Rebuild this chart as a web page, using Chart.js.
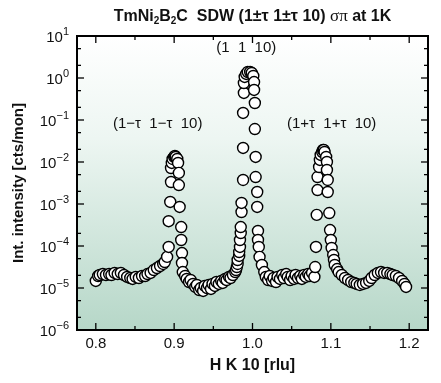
<!DOCTYPE html>
<html>
<head>
<meta charset="utf-8">
<script src="https://cdn.jsdelivr.net/npm/chart.js@4.4.0/dist/chart.umd.min.js"></script>
<style>
  html, body { margin: 0; padding: 0; background: #fff; }
</style>
</head>
<body>
<canvas id="myChart" width="441" height="383"></canvas>
<script>
// scan along (H H 10)
const hk = [
  0.800, 0.803, 0.805, 0.809, 0.813, 0.817, 0.820, 0.824, 0.828, 0.832,
  0.836, 0.840, 0.844, 0.847, 0.851, 0.855, 0.859, 0.863, 0.866, 0.870,
  0.874, 0.878, 0.882, 0.886, 0.888, 0.891, 0.893, 0.893, 0.895, 0.896,
  0.896, 0.897, 0.898, 0.900, 0.901, 0.902, 0.904, 0.905, 0.906, 0.906,
  0.907, 0.909, 0.909, 0.910, 0.910, 0.911,
  0.914, 0.916, 0.919, 0.921, 0.924, 0.927, 0.929, 0.932, 0.934, 0.937,
  0.939, 0.942, 0.944, 0.947, 0.949, 0.952, 0.954, 0.957, 0.960, 0.962,
  0.965, 0.967, 0.970, 0.972, 0.975,
  0.978, 0.979, 0.980, 0.981, 0.981, 0.983, 0.983, 0.984, 0.984, 0.985,
  0.985, 0.986, 0.986, 0.988, 0.988, 0.988, 0.989, 0.989, 0.990, 0.992,
  0.994, 0.997, 0.999, 1.001, 1.002, 1.002, 1.003, 1.003, 1.004, 1.004,
  1.006, 1.006, 1.007, 1.007, 1.008, 1.009, 1.012, 1.015,
  1.017, 1.020, 1.022, 1.025, 1.027, 1.030, 1.032, 1.035, 1.038, 1.040,
  1.043, 1.045, 1.048, 1.050, 1.053, 1.055, 1.058, 1.061, 1.063, 1.066,
  1.068, 1.071, 1.073, 1.076,
  1.079, 1.080, 1.081, 1.082, 1.083, 1.083, 1.085, 1.086, 1.087, 1.089,
  1.090, 1.091, 1.092, 1.094, 1.095, 1.095, 1.096, 1.096, 1.098, 1.099,
  1.100, 1.101, 1.103, 1.104, 1.105, 1.108, 1.110,
  1.114, 1.118, 1.122, 1.126, 1.130, 1.133, 1.137, 1.141, 1.145, 1.149,
  1.152, 1.156, 1.160, 1.164, 1.168, 1.172, 1.176, 1.179, 1.183, 1.187,
  1.191, 1.194, 1.196
];
const intensity = [
  1.47e-5, 1.93e-5, 2.04e-5, 2.15e-5, 2.04e-5, 2.15e-5, 2.04e-5, 2.28e-5, 2.15e-5, 2.28e-5,
  2.04e-5, 1.83e-5, 1.73e-5, 1.64e-5, 1.83e-5, 1.73e-5, 1.93e-5, 1.93e-5, 2.15e-5, 2.28e-5,
  2.68e-5, 2.99e-5, 3.34e-5, 3.73e-5, 4.16e-5, 5.5e-5, 9.5e-5, 3.9e-4, 1.12e-3, 3.34e-3,
  7.2e-3, 9.5e-3, 1.18e-2, 1.32e-2, 1.39e-2, 1.32e-2, 1.18e-2, 9.5e-3, 5.5e-3, 2.83e-3,
  8.5e-4, 2.83e-4, 1.39e-4, 6.8e-5, 3.94e-5, 2.4e-5,
  1.93e-5, 1.64e-5, 1.39e-5, 1.55e-5, 1.25e-5, 1.06e-5, 1.18e-5, 8.96e-6, 1.0e-5, 8.5e-6,
  1.12e-5, 1.0e-5, 1.18e-5, 9.5e-6, 1.25e-5, 1.12e-5, 1.39e-5, 1.25e-5, 1.47e-5, 1.32e-5,
  1.64e-5, 1.55e-5, 1.83e-5, 1.73e-5, 2.04e-5,
  2.4e-5, 2.68e-5, 3.16e-5, 3.73e-5, 4.64e-5, 5.8e-5, 7.2e-5, 9.5e-5, 1.39e-4, 2.04e-4,
  2.83e-4, 6.45e-4, 1.06e-3, 3.73e-3, 2.16e-2, 0.147, 0.44, 0.76, 1.06, 1.25,
  1.39, 1.39, 1.32, 1.12, 0.80, 0.52, 0.254, 0.061, 1.32e-2, 4.39e-3,
  1.93e-3, 8.5e-4, 2.28e-4, 1.39e-4, 9.5e-5, 5.5e-5, 3.53e-5, 2.4e-5,
  1.83e-5, 1.55e-5, 1.93e-5, 1.47e-5, 1.73e-5, 1.39e-5, 1.83e-5, 1.64e-5, 2.04e-5, 1.73e-5,
  2.15e-5, 1.83e-5, 1.55e-5, 1.93e-5, 1.64e-5, 2.04e-5, 1.73e-5, 1.93e-5, 1.64e-5, 2.04e-5,
  1.83e-5, 2.15e-5, 1.93e-5, 2.28e-5,
  1.83e-5, 3.16e-5, 9.5e-5, 5.5e-4, 2.15e-3, 4.39e-3, 7.6e-3, 1.12e-2, 1.47e-2, 1.73e-2,
  1.93e-2, 1.93e-2, 1.73e-2, 1.32e-2, 1.0e-2, 6.45e-3, 3.73e-3, 1.93e-3, 6.1e-4, 2.4e-4,
  1.39e-4, 8.96e-5, 6.1e-5, 4.64e-5, 3.53e-5, 2.83e-5, 2.4e-5,
  2.04e-5, 1.73e-5, 1.55e-5, 1.39e-5, 1.32e-5, 1.25e-5, 1.18e-5, 1.25e-5, 1.32e-5, 1.47e-5,
  1.73e-5, 2.04e-5, 2.28e-5, 2.4e-5, 2.28e-5, 2.28e-5, 2.15e-5, 2.04e-5, 1.93e-5, 1.73e-5,
  1.47e-5, 1.25e-5, 1.06e-5
];

const xTicks = [0.8, 0.9, 1.0, 1.1, 1.2];
const xMinorTicks = [0.85, 0.95, 1.05, 1.15];
const yTicks = [1e-6, 1e-5, 1e-4, 1e-3, 1e-2, 1e-1, 1e0, 1e1];
const yExponents = ['\u22126', '\u22125', '\u22124', '\u22123', '\u22122', '\u22121', '0', '1'];
const yMinorFactors = [2, 5];
const peakNames = ['(1\u2212\u03c4  1\u2212\u03c4  10)', '(1  1  10)', '(1+\u03c4  1+\u03c4  10)'];

const sans = '"Liberation Sans", Arial, Helvetica, sans-serif';
const serif = '"Liberation Serif", "Times New Roman", serif';

// runs: [text, size, weight, dy, family]
function runsWidth(ctx, runs) {
  let w = 0;
  runs.forEach(r => {
    ctx.font = `${r[2]} ${r[1]}px ${r[4] || sans}`;
    w += ctx.measureText(r[0]).width;
  });
  return w;
}
function drawRuns(ctx, runs, x, y) {
  ctx.textAlign = 'left';
  ctx.textBaseline = 'alphabetic';
  runs.forEach(r => {
    ctx.font = `${r[2]} ${r[1]}px ${r[4] || sans}`;
    ctx.fillText(r[0], x, y + r[3]);
    x += ctx.measureText(r[0]).width;
  });
}

const frame = {
  id: 'frame',
  beforeDraw(chart) {
    const {ctx, chartArea: a} = chart;
    const g = ctx.createLinearGradient(0, a.top, 0, a.bottom);
    g.addColorStop(0, '#ffffff');
    g.addColorStop(0.35, '#edf6f2');
    g.addColorStop(1, '#b6d7c8');
    ctx.save();
    ctx.fillStyle = g;
    ctx.fillRect(a.left, a.top, a.right - a.left, a.bottom - a.top);
    ctx.restore();
  },
  afterDatasetsDraw(chart) {
    const {ctx, chartArea: a, scales: {x, y}} = chart;
    const seg = (x1, y1, x2, y2) => { ctx.beginPath(); ctx.moveTo(x1, y1); ctx.lineTo(x2, y2); ctx.stroke(); };
    ctx.save();
    ctx.strokeStyle = '#000';
    ctx.lineWidth = 1.3;
    xTicks.forEach(v => {
      const px = x.getPixelForValue(v);
      seg(px, a.bottom, px, a.bottom - 7);
      seg(px, a.top, px, a.top + 7);
    });
    xMinorTicks.forEach(v => {
      const px = x.getPixelForValue(v);
      seg(px, a.bottom, px, a.bottom - 4);
      seg(px, a.top, px, a.top + 4);
    });
    yTicks.forEach((v, i) => {
      const py = y.getPixelForValue(v);
      seg(a.left, py, a.left + 7, py);
      seg(a.right, py, a.right - 7, py);
      if (i < yTicks.length - 1) {
        yMinorFactors.forEach(f => {
          const pm = y.getPixelForValue(v * f);
          seg(a.left, pm, a.left + 4, pm);
          seg(a.right, pm, a.right - 4, pm);
        });
      }
    });
    ctx.lineWidth = 2;
    ctx.strokeRect(a.left, a.top, a.right - a.left, a.bottom - a.top);
    ctx.restore();
  },
  afterDraw(chart) {
    const {ctx, chartArea: a, scales: {x, y}} = chart;
    ctx.save();
    ctx.fillStyle = '#111';

    // y tick labels 10^n
    yTicks.forEach((v, i) => {
      const py = y.getPixelForValue(v);
      const runs = [['10', 15, 'normal', 0], [yExponents[i], 11, 'normal', -7]];
      const w = runsWidth(ctx, runs);
      drawRuns(ctx, runs, a.left - 8 - w, py + 6);
    });

    // title
    const title = [
      ['TmNi', 16, 'bold', 0], ['2', 10, 'bold', 3], ['B', 16, 'bold', 0], ['2', 10, 'bold', 3],
      ['C  SDW (1\u00b1\u03c4 1\u00b1\u03c4 10) ', 16, 'bold', 0],
      ['\u03c3\u03c0', 17, 'normal', 0, serif], [' at 1K', 16, 'bold', 0]
    ];
    drawRuns(ctx, title, (a.left + a.right) / 2 - runsWidth(ctx, title) / 2, 21);

    // peak names
    const anchors = [[0.879, 0.08], [0.992, 5.2], [1.101, 0.08]];
    ctx.font = `15px ${sans}`;
    ctx.textAlign = 'center';
    ctx.textBaseline = 'middle';
    peakNames.forEach((t, i) => {
      ctx.fillText(t, x.getPixelForValue(anchors[i][0]), y.getPixelForValue(anchors[i][1]));
    });
    ctx.restore();
  }
};

const ctx = document.getElementById('myChart').getContext('2d');
const myChart = new Chart(ctx, {
  type: 'scatter',
  data: {
    datasets: [{
      data: hk.map((h, i) => ({x: h, y: intensity[i]})),
      pointRadius: 5.5,
      pointBackgroundColor: '#ffffff',
      pointBorderColor: '#000000',
      pointBorderWidth: 1.4
    }]
  },
  options: {
    responsive: false,
    animation: false,
    devicePixelRatio: 1,
    layout: { padding: { top: 36, right: 13, left: 0, bottom: 0 } },
    plugins: { legend: { display: false }, tooltip: { enabled: false } },
    scales: {
      x: {
        type: 'linear',
        min: 0.776,
        max: 1.224,
        grid: { display: false, drawTicks: false },
        border: { display: false },
        afterBuildTicks: s => { s.ticks = xTicks.map(v => ({value: v})); },
        afterFit: s => { s.height = 53; },
        ticks: {
          padding: 5,
          color: '#111',
          autoSkip: false,
          maxRotation: 0,
          font: { family: sans, size: 15 },
          callback: v => v.toFixed(1)
        },
        title: {
          display: true,
          text: 'H K 10 [rlu]',
          color: '#111',
          font: { family: sans, size: 16, weight: 'bold' },
          padding: { top: 0, bottom: 8 }
        }
      },
      y: {
        type: 'logarithmic',
        min: 1e-6,
        max: 10,
        grid: { display: false, drawTicks: false },
        border: { display: false },
        afterBuildTicks: s => { s.ticks = yTicks.map(v => ({value: v})); },
        afterFit: s => { s.width = 77; },
        ticks: { display: false },
        title: {
          display: true,
          text: 'Int. intensity [cts/mon]',
          color: '#111',
          font: { family: sans, size: 15, weight: 'bold' },
          padding: { top: 10, bottom: 0 }
        }
      }
    }
  },
  plugins: [frame]
});
</script>
</body>
</html>
